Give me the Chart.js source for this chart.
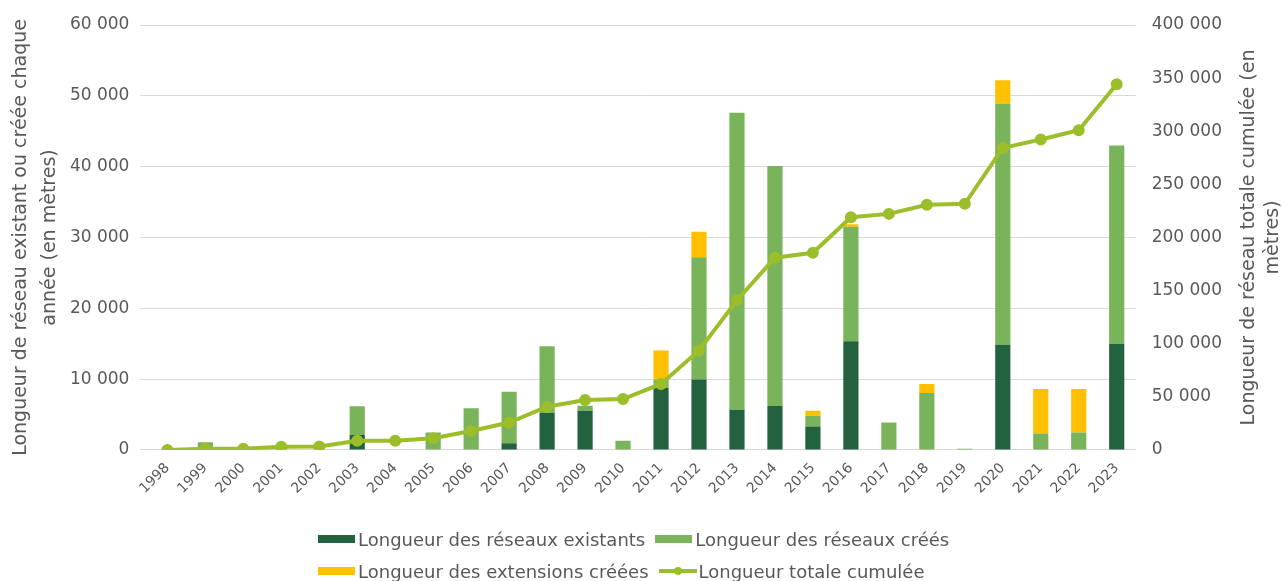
<!DOCTYPE html>
<html>
<head>
<meta charset="utf-8">
<script src="https://cdn.jsdelivr.net/npm/chart.js@4"></script>
<style>
  html, body { margin: 0; padding: 0; background: #fff; }
  #wrap { position: relative; width: 1282px; height: 581px; }
  #legend { position: absolute; left: 318px; top: 523px; width: 900px;
            font-family: "DejaVu Sans", sans-serif; font-size: 18px; color: #595959; }
  .row { display: flex; justify-content: flex-start; height: 32px; align-items: center; }
  .item { display: flex; align-items: center; margin-right: 10px; }
  .box { width: 37px; height: 8px; margin-right: 3px; }
  .lineBox { position: relative; width: 38px; height: 8px; margin-right: 2px; }
  .lineBox:before { content: ''; position: absolute; left: 0; right: 0; top: 2px; height: 4px; background: #9BBE2A; }
  .lineBox:after { content: ''; position: absolute; left: 15px; top: 0; width: 8px; height: 8px; border-radius: 50%; background: #9BBE2A; }
</style>
</head>
<body>
<div id="wrap">
  <canvas id="chart" width="1282" height="581"></canvas>
  <div id="legend"></div>
</div>
<script>
// Data
const years = ['1998','1999','2000','2001','2002','2003','2004','2005','2006','2007','2008','2009','2010',
               '2011','2012','2013','2014','2015','2016','2017','2018','2019','2020','2021','2022','2023'];
const existants = [0,0,0,0,0,2100,0,0,0,950,5200,5530,0,8750,9930,5670,6200,3310,15360,0,0,0,14850,0,0,14990];
const crees = [0,1100,0,0,0,4050,0,2450,5900,7250,9450,710,1280,1180,17260,41950,33900,1510,16170,3880,8040,150,34040,2310,2460,27990];
const extensions = [0,0,0,0,0,0,0,0,0,0,0,0,0,4110,3630,0,0,710,340,0,1280,0,3310,6300,6150,0];
const cumul = [0,1100,1100,3100,3300,8700,8700,11000,17800,25800,40700,47000,47900,62100,93600,140900,
               181000,185600,219100,222200,230700,231700,284300,292200,301000,344200];

const labels = {
    existants: 'Longueur des réseaux existants',
    crees: 'Longueur des réseaux créés',
    extensions: 'Longueur des extensions créées',
    cumul: 'Longueur totale cumulée'
};
const colors = {
    existants: '#22623F',
    crees: '#79B45B',
    extensions: '#FFC000',
    cumul: '#9BBE2A'
};

const leftTitle = ['Longueur de réseau existant ou créée chaque', 'année (en mètres)'];
const rightTitle = ['Longueur de réseau totale cumulée (en', 'mètres)'];

// thousands separated by a space
function fmt(v) {
    return String(v).replace(/\B(?=(\d{3})+(?!\d))/g, ' ');
}

const textColor = '#595959';
const fontFamily = '"DejaVu Sans", sans-serif';

// right axis title reads bottom to top, like the left one
const rightTitlePlugin = {
    id: 'rightTitle',
    afterDraw(chart) {
        const { ctx, chartArea } = chart;
        const cy = (chartArea.top + chartArea.bottom) / 2;
        ctx.save();
        ctx.fillStyle = textColor;
        ctx.font = '19px ' + fontFamily;
        ctx.textAlign = 'center';
        ctx.textBaseline = 'middle';
        rightTitle.forEach((line, i) => {
            ctx.save();
            ctx.translate(chartArea.right + 113 + i * 24, cy);
            ctx.rotate(-Math.PI / 2);
            ctx.fillText(line, 0, 0);
            ctx.restore();
        });
        ctx.restore();
    }
};

const ctx = document.getElementById('chart').getContext('2d');
new Chart(ctx, {
    data: {
        labels: years,
        datasets: [
            {
                type: 'line',
                label: labels.cumul,
                data: cumul,
                yAxisID: 'y2',
                borderColor: colors.cumul,
                backgroundColor: colors.cumul,
                borderWidth: 4,
                pointRadius: 4,
                pointHoverRadius: 4,
                tension: 0,
                order: 0
            },
            {
                type: 'bar',
                label: labels.existants,
                data: existants,
                yAxisID: 'y',
                backgroundColor: colors.existants,
                categoryPercentage: 0.8,
                barPercentage: 0.5,
                order: 1
            },
            {
                type: 'bar',
                label: labels.crees,
                data: crees,
                yAxisID: 'y',
                backgroundColor: colors.crees,
                categoryPercentage: 0.8,
                barPercentage: 0.5,
                order: 1
            },
            {
                type: 'bar',
                label: labels.extensions,
                data: extensions,
                yAxisID: 'y',
                backgroundColor: colors.extensions,
                categoryPercentage: 0.8,
                barPercentage: 0.5,
                order: 1
            }
        ]
    },
    options: {
        responsive: false,
        animation: false,
        layout: { padding: { top: 25, bottom: 82, left: 0, right: 52 } },
        plugins: {
            legend: { display: false },
            tooltip: { enabled: false }
        },
        scales: {
            x: {
                stacked: true,
                grid: { display: false },
                border: { display: false },
                ticks: {
                    color: textColor,
                    font: { family: fontFamily, size: 14 },
                    minRotation: 45,
                    maxRotation: 45,
                    padding: 2
                }
            },
            y: {
                stacked: true,
                position: 'left',
                min: 0,
                max: 60000,
                ticks: {
                    stepSize: 10000,
                    color: textColor,
                    font: { family: fontFamily, size: 17 },
                    padding: 11,
                    callback: v => fmt(v)
                },
                grid: { color: '#D9D9D9', lineWidth: 1, tickLength: 8 },
                border: { display: false },
                title: {
                    display: true,
                    text: leftTitle,
                    color: textColor,
                    font: { family: fontFamily, size: 19, lineHeight: 1.55 },
                    padding: { top: 6, bottom: -6 }
                }
            },
            y2: {
                position: 'right',
                min: 0,
                max: 400000,
                ticks: {
                    stepSize: 50000,
                    color: textColor,
                    font: { family: fontFamily, size: 17 },
                    padding: 8,
                    callback: v => fmt(v)
                },
                grid: { display: false },
                border: { display: false }
            }
        }
    },
    plugins: [rightTitlePlugin]
});

// Legend in two rows, like the original
const legendRows = [
    [['box', colors.existants, labels.existants], ['box', colors.crees, labels.crees]],
    [['box', colors.extensions, labels.extensions], ['line', colors.cumul, labels.cumul]]
];
const legendDiv = document.getElementById('legend');
legendRows.forEach(row => {
    const r = document.createElement('div');
    r.className = 'row';
    row.forEach(([kind, color, text]) => {
        const item = document.createElement('div');
        item.className = 'item';
        const sw = document.createElement('span');
        sw.className = kind === 'box' ? 'box' : 'lineBox';
        if (kind === 'box') sw.style.background = color;
        const t = document.createElement('span');
        t.textContent = text;
        item.appendChild(sw);
        item.appendChild(t);
        r.appendChild(item);
    });
    legendDiv.appendChild(r);
});
</script>
</body>
</html>
